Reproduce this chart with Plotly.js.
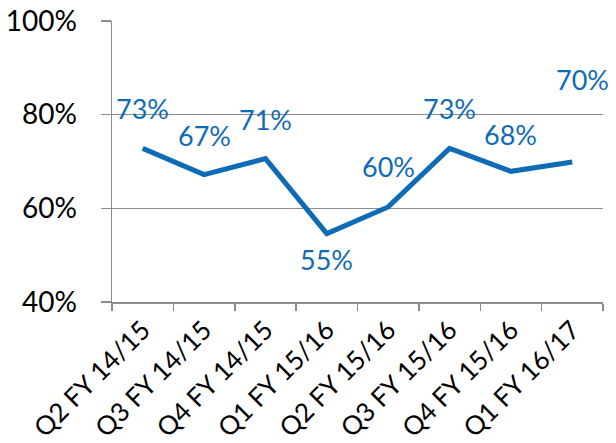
<!DOCTYPE html>
<html>
<head>
<meta charset="utf-8">
<script src="https://cdn.plot.ly/plotly-3.0.1.min.js"></script>
<style>html,body{margin:0;padding:0;background:#fff;}#chart{width:616px;height:443px;}</style>
</head>
<body>
<div id="chart"></div>
<script>
const categories = ['Q2 FY 14/15','Q3 FY 14/15','Q4 FY 14/15','Q1 FY 15/16','Q2 FY 15/16','Q3 FY 15/16','Q4 FY 15/16','Q1 FY 16/17'];
const values = [72.8, 67.2, 70.6, 54.6, 60.3, 72.8, 67.9, 69.9];
const labels = ['73%','67%','71%','55%','60%','73%','68%','70%'];
const yTicks = [40, 60, 80, 100];

const blue = '#0f6bb5';
const grey = '#8c8c8c';
const fontFam = 'Lato, "Open Sans", sans-serif';

// label placement (offsets in px relative to the point)
const dy = [40, 39, 39, -26, 40, 40, 37, 82];
const dx = [0, 0, 0, 0, 0, 0, 0, 10];

const annotations = categories.map((c, i) => ({
  x: c, y: values[i], text: labels[i], showarrow: false,
  yshift: dy[i], xshift: dx[i],
  font: {family: fontFam, size: 27, color: blue}
}));

const trace = {
  x: categories, y: values, type: 'scatter', mode: 'lines',
  line: {color: blue, width: 5}, hoverinfo: 'skip'
};

const layout = {
  width: 616, height: 443,
  margin: {l: 112, r: 13, t: 21, b: 141},
  paper_bgcolor: '#fff', plot_bgcolor: '#fff',
  showlegend: false,
  font: {family: fontFam, color: '#000'},
  xaxis: {
    type: 'category', range: [-0.5, 7.5], tickson: 'boundaries',
    ticks: 'outside', ticklen: 7, tickcolor: grey, tickwidth: 1.5,
    showline: true, linecolor: grey, linewidth: 1.5, showgrid: false,
    tickangle: -45, ticklabelstandoff: 1,
    tickfont: {family: fontFam, size: 26, color: '#000'}
  },
  yaxis: {
    range: [40, 100], tickvals: yTicks, ticktext: yTicks.map(v => v + '%'),
    ticks: 'outside', ticklen: 10, tickcolor: grey, tickwidth: 1.5,
    showline: true, linecolor: grey, linewidth: 1.5,
    showgrid: true, gridcolor: grey, gridwidth: 1.5, zeroline: false,
    ticklabelstandoff: 18,
    tickfont: {family: fontFam, size: 28, color: '#000'}
  },
  annotations: annotations
};

Plotly.newPlot('chart', [trace], layout, {staticPlot: true, displayModeBar: false});
</script>
</body>
</html>
